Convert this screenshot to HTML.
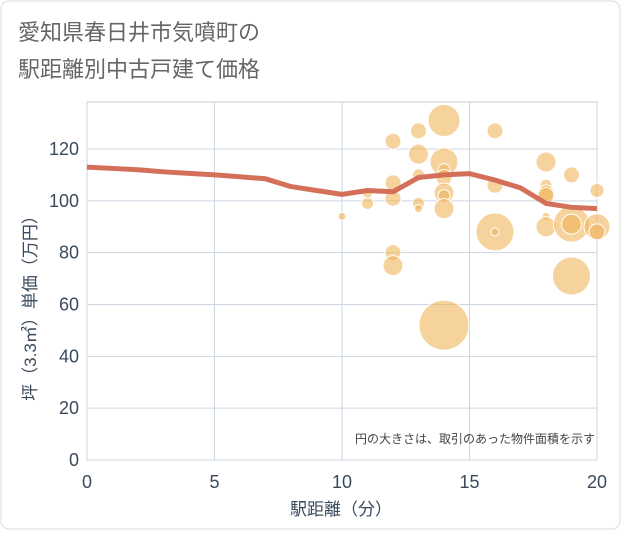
<!DOCTYPE html>
<html><head><meta charset="utf-8"><style>
body{margin:0;background:#fff;font-family:"Liberation Sans","Noto Sans CJK JP",sans-serif}
#wrap{position:relative;width:621px;height:530px}
</style></head><body>
<div id="wrap">
<svg id="chart" width="621" height="530" xmlns="http://www.w3.org/2000/svg">
<rect x="1" y="1" width="619" height="528" rx="8" fill="#fff" stroke="#ddd"/>
<text x="18" y="40" font-size="22" fill="#666" font-family="Liberation Sans, Noto Sans CJK JP, sans-serif">愛知県春日井市気噴町の</text>
<text x="18" y="77" font-size="22" fill="#666" font-family="Liberation Sans, Noto Sans CJK JP, sans-serif">駅距離別中古戸建て価格</text>
<g id="grid"></g><g id="bubbles"></g><g id="line"></g><g id="axes"></g>
<text x="595" y="443" font-size="12" fill="#444" text-anchor="end" font-family="Liberation Sans, Noto Sans CJK JP, sans-serif">円の大きさは、取引のあった物件面積を示す</text>
<text x="341" y="515" font-size="17" fill="#3a4a5c" text-anchor="middle" font-family="Liberation Sans, Noto Sans CJK JP, sans-serif">駅距離（分）</text>
<text transform="translate(36,304) rotate(-90)" font-size="17" fill="#3a4a5c" text-anchor="middle" font-family="Liberation Sans, Noto Sans CJK JP, sans-serif">坪（3.3㎡）単価（万円）</text>
</svg></div>
<script>
const xTicks=[0,5,10,15,20];
const yTicks=[0,20,40,60,80,100,120];
const bubbleX=[10,11,11,12,12,12,12,12,13,13,13,13,13,14,14,14,14,14,14,14,14,16,16,16,16,18,18,18,18,18,18,19,19,19,19,20,20,20];
const bubbleY=[94,99,103,123,107,101,80,75,127,118,110,99,97,131,115,112,109,103,102,97,52,127,106,88,88,115,106,103,102,94,90,110,91,91,71,104,90,88];
const bubbleR=[4,6,5,8,8,8,8,10,8,10,6,6,4,16,14,6,8,10,6,10,25,8,8,19,4,10,6,8,8,4,10,8,18,10,19,7,13,8];
const lineX=[0,1,2,3,4,5,6,7,8,9,10,11,12,13,14,15,16,17,18,19,20];
const lineY=[113,112.5,112,111.2,110.6,110,109.3,108.5,105.5,104,102.5,104,103.5,109,110,110.5,108,105,99,97.5,97];
const X0=87,X1=597,Y0=460,Y1=149;
const sx=v=>X0+(X1-X0)*v/20;
const sy=v=>Y0-(Y0-Y1)*v/120;
const NS="http://www.w3.org/2000/svg";
function mk(t,a,p){const e=document.createElementNS(NS,t);for(const k in a)e.setAttribute(k,a[k]);p.appendChild(e);return e;}
const grid=document.getElementById('grid'),axes=document.getElementById('axes');
const pb=mk('rect',{x:X0,y:102,width:X1-X0,height:Y0-102,fill:'none',stroke:'#ccc'},grid);


xTicks.forEach(t=>{
 const l=mk('line',{x1:sx(t),x2:sx(t),y1:102,y2:Y0,stroke:'#ccd6e3'},grid);
 
 
 const tx=mk('text',{x:sx(t),y:488,'font-size':18,fill:'#3a4a5c','text-anchor':'middle'},axes);tx.textContent=t;
 
 
});
yTicks.forEach(t=>{
 const l=mk('line',{x1:X0,x2:X1,y1:sy(t),y2:sy(t),stroke:'#ccd6e3'},grid);
 
 
 const tx=mk('text',{x:79,y:sy(t)+6,'font-size':18,fill:'#3a4a5c','text-anchor':'end'},axes);tx.textContent=t;
 
 
});
const bg=document.getElementById('bubbles');
bubbleX.forEach((x,i)=>{
 const c=mk('circle',{cx:sx(x),cy:sy(bubbleY[i]),r:bubbleR[i],fill:'rgba(240,180,90,0.6)',stroke:'#fff','stroke-width':1},bg);
 
 
});
const p=mk('polyline',{points:lineX.map((x,i)=>sx(x)+','+sy(lineY[i])).join(' '),fill:'none',stroke:'#d4705a','stroke-width':5,'stroke-linejoin':'round'},document.getElementById('line'));


</script>
</body></html>
